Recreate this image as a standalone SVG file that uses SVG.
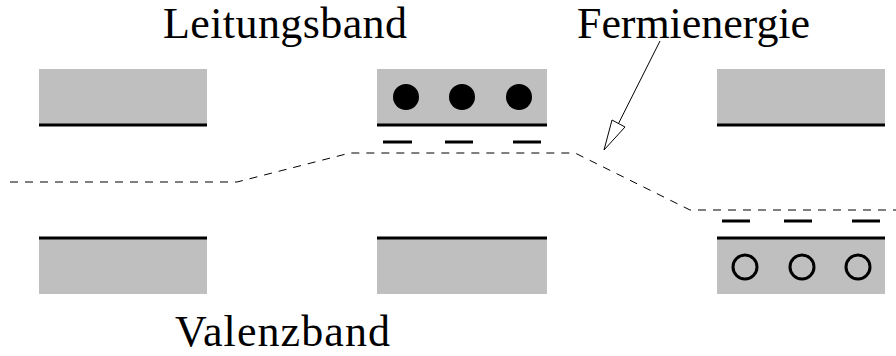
<svg xmlns="http://www.w3.org/2000/svg" width="896" height="356" viewBox="0 0 896 356">
  <style>
    .band { fill: #bfbfbf; }
    .edge { stroke: #000; stroke-width: 3; fill: none; }
    .level { stroke: #000; stroke-width: 3; fill: none; }
    .electron { fill: #000; }
    .hole { fill: none; stroke: #000; stroke-width: 3; }
    .fermi { stroke: #000; stroke-width: 1; fill: none; stroke-dasharray: 8 7; }
    .label { font-family: "Liberation Serif", "Times New Roman", serif; font-size: 44px; fill: #000; }
    .pointer { stroke: #000; stroke-width: 1; fill: none; }
  </style>

  <!-- labels -->
  <text class="label" x="163" y="38" textLength="244">Leitungsband</text>
  <text class="label" x="577" y="38" textLength="233">Fermienergie</text>
  <text class="label" x="175" y="346" textLength="215">Valenzband</text>

  <!-- left column: intrinsic -->
  <g id="cb-left">
    <rect class="band" x="39" y="69" width="168" height="55"/>
    <line class="edge" x1="39" y1="125" x2="207" y2="125"/>
  </g>
  <g id="vb-left">
    <rect class="band" x="39" y="238" width="168" height="56"/>
    <line class="edge" x1="39" y1="238" x2="207" y2="238"/>
  </g>

  <!-- middle column: n-type -->
  <g id="cb-middle">
    <rect class="band" x="377" y="69" width="170" height="55"/>
    <line class="edge" x1="377" y1="125" x2="547" y2="125"/>
    <circle class="electron" cx="406" cy="97" r="13"/>
    <circle class="electron" cx="462" cy="97" r="13"/>
    <circle class="electron" cx="519" cy="97" r="13"/>
  </g>
  <g id="donors">
    <line class="level" x1="383" y1="142" x2="412" y2="142"/>
    <line class="level" x1="445" y1="142" x2="473" y2="142"/>
    <line class="level" x1="513" y1="142" x2="541" y2="142"/>
  </g>
  <g id="vb-middle">
    <rect class="band" x="377" y="238" width="170" height="56"/>
    <line class="edge" x1="377" y1="238" x2="547" y2="238"/>
  </g>

  <!-- right column: p-type -->
  <g id="cb-right">
    <rect class="band" x="717" y="69" width="168" height="55"/>
    <line class="edge" x1="717" y1="125" x2="885" y2="125"/>
  </g>
  <g id="acceptors">
    <line class="level" x1="722" y1="221" x2="750" y2="221"/>
    <line class="level" x1="784" y1="221" x2="812" y2="221"/>
    <line class="level" x1="852" y1="221" x2="880" y2="221"/>
  </g>
  <g id="vb-right">
    <rect class="band" x="717" y="238" width="168" height="56"/>
    <line class="edge" x1="717" y1="238" x2="885" y2="238"/>
    <circle class="hole" cx="745" cy="267" r="12"/>
    <circle class="hole" cx="802" cy="267" r="12"/>
    <circle class="hole" cx="858" cy="267" r="12"/>
  </g>

  <!-- connectors: Fermi level and its pointer -->
  <g id="connectors">
    <polyline class="fermi" points="10,182 237,182 350,153 575,153 690,210 896,210"/>
    <line class="pointer" x1="660" y1="41" x2="618.5" y2="123.5"/>
    <polygon class="pointer" points="604,150 612,120 625,127" fill="#fff"/>
  </g>
</svg>
